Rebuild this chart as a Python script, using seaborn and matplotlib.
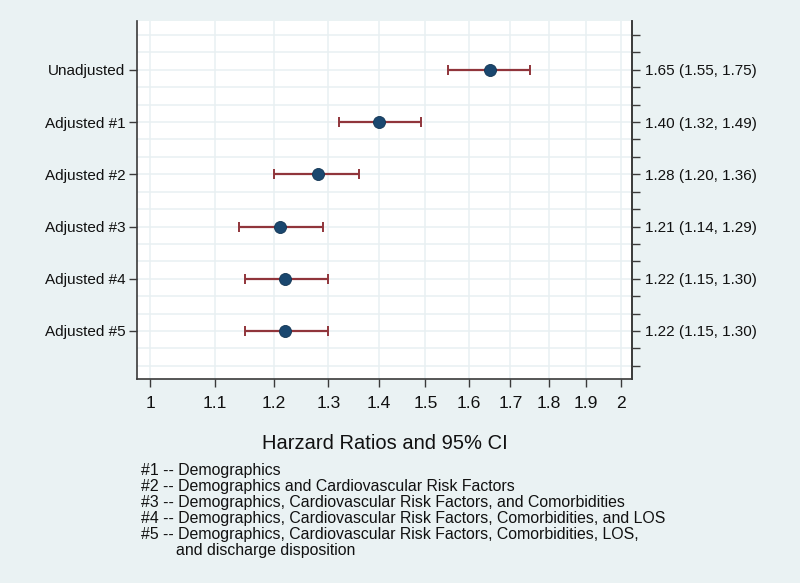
import numpy as np
import pandas as pd
import matplotlib
matplotlib.use("Agg")
import matplotlib.pyplot as plt
from matplotlib.ticker import FixedLocator, NullLocator, FixedFormatter
import seaborn as sns

# ---- data ----
models = ["Unadjusted", "Adjusted #1", "Adjusted #2", "Adjusted #3", "Adjusted #4", "Adjusted #5"]
hr = [1.65, 1.40, 1.28, 1.21, 1.22, 1.22]
ci_low = [1.55, 1.32, 1.20, 1.14, 1.15, 1.15]
ci_high = [1.75, 1.49, 1.36, 1.29, 1.30, 1.30]
x_ticks = [1.0, 1.1, 1.2, 1.3, 1.4, 1.5, 1.6, 1.7, 1.8, 1.9, 2.0]
x_tick_labels = ["1", "1.1", "1.2", "1.3", "1.4", "1.5", "1.6", "1.7", "1.8", "1.9", "2"]
x_title = "Harzard Ratios and 95% CI"
notes = [
    "#1 -- Demographics",
    "#2 -- Demographics and Cardiovascular Risk Factors",
    "#3 -- Demographics, Cardiovascular Risk Factors, and Comorbidities",
    "#4 -- Demographics, Cardiovascular Risk Factors, Comorbidities, and LOS",
    "#5 -- Demographics, Cardiovascular Risk Factors, Comorbidities, LOS,",
]
note_cont = "and discharge disposition"

# ---- styling ----
BG = "#EAF2F3"
GRID = "#E8F0F2"
NAVY = "#1A476F"
MAROON = "#90353B"
AX = "#3a3a3a"

sns.set_theme(style="white")
plt.rcParams["font.family"] = ["Liberation Sans", "DejaVu Sans"]

df = pd.DataFrame({"model": models, "hr": hr, "lo": ci_low, "hi": ci_high})
df["pos"] = np.arange(1, len(df) + 1)
df["label"] = [f"{h:.2f} ({l:.2f}, {u:.2f})" for h, l, u in zip(df.hr, df.lo, df.hi)]

fig = plt.figure(figsize=(8.0, 5.83), dpi=100, facecolor=BG)
ax = fig.add_axes([137 / 800, 1 - 379 / 583, (632 - 137) / 800, (379 - 21) / 583])
ax.set_facecolor("white")

ax.set_xscale("log")
ax.set_xlim(0.981, 2.033)
ylim = (6.92, 0.065)
ax.set_ylim(*ylim)

# grid
minor_y = [k / 3 for k in range(1, 21)]
for yv in minor_y:
    ax.axhline(yv, color=GRID, lw=1.1, zorder=0)
for xv in x_ticks:
    ax.axvline(xv, color=GRID, lw=1.1, zorder=0)

# CI bars
ax.errorbar(df["hr"], df["pos"], xerr=[df["hr"] - df["lo"], df["hi"] - df["hr"]],
            fmt="none", ecolor=MAROON, elinewidth=1.6, capsize=3.6, capthick=1.4, zorder=2)
# point estimates
sns.scatterplot(data=df, x="hr", y="pos", ax=ax, color=NAVY, s=75,
                edgecolor="#123553", linewidth=0.6, zorder=3, legend=False)

ax.xaxis.set_major_locator(FixedLocator(x_ticks))
ax.xaxis.set_major_formatter(FixedFormatter(x_tick_labels))
ax.xaxis.set_minor_locator(NullLocator())
ax.set_yticks(df["pos"])
ax.set_yticklabels(df["model"])
ax.set_xlabel(x_title, fontsize=14.5, color="#111111", labelpad=17)
ax.set_ylabel("")

ax.tick_params(axis="x", which="major", direction="out", length=5.5, width=1.0,
               color=AX, labelsize=12.6, pad=6.5, labelcolor="#111111", bottom=True)
ax.tick_params(axis="y", which="major", direction="out", length=5.5, width=1.0,
               color=AX, labelsize=11, pad=3, labelcolor="#111111", left=True)

for side in ["left", "bottom", "right"]:
    ax.spines[side].set_visible(True)
    ax.spines[side].set_color(AX)
    ax.spines[side].set_linewidth(1.2)
ax.spines["top"].set_visible(False)

# right axis with estimates
ax2 = ax.twinx()
ax2.set_ylim(*ylim)
ax2.set_yticks(df["pos"])
ax2.set_yticklabels(df["label"])
ax2.set_yticks([v for v in minor_y if abs(v - round(v)) > 1e-6], minor=True)
ax2.tick_params(axis="y", which="both", direction="out", length=5.5, width=1.0,
                color=AX, labelsize=11, pad=4, labelcolor="#111111", right=True)
for side in ["left", "bottom", "top"]:
    ax2.spines[side].set_visible(False)
ax2.spines["right"].set_color(AX)
ax2.spines["right"].set_linewidth(1.2)
ax2.grid(False)

# notes
for i, line in enumerate(notes):
    fig.text(141 / 800, 1 - (470 + 16 * i) / 583, line, fontsize=11.4,
             color="#111111", va="center", ha="left")
fig.text(176 / 800, 1 - (470 + 16 * len(notes)) / 583, note_cont, fontsize=11.4,
         color="#111111", va="center", ha="left")

fig.savefig("out.png", dpi=100, facecolor=BG)
